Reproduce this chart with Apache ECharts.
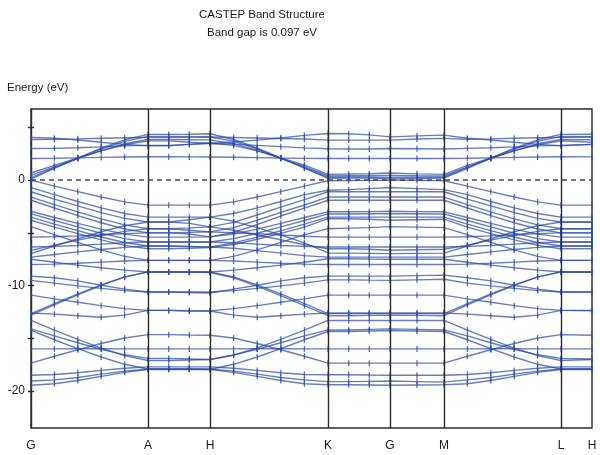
<!DOCTYPE html>
<html><head><meta charset="utf-8">
<script src="https://cdn.jsdelivr.net/npm/echarts@6/dist/echarts.min.js"></script>
<style>html,body{margin:0;padding:0;background:#fff}#chart{width:600px;height:455px}</style>
</head><body><div id="chart"></div>
<script>
// k-path: cumulative distance of every sampled k-point
const kDistance = [0, 0.234, 0.468, 0.702, 0.936, 1.17, 1.377, 1.583, 1.79, 2.026, 2.262, 2.498, 2.734,
  2.97, 3.177, 3.383, 3.59, 3.86, 4.13, 4.364, 4.598, 4.832, 5.066, 5.30, 5.61];
// high-symmetry points
const kLabels = ['G', 'A', 'H', 'K', 'G', 'M', 'L', 'H'];
const kLabelPos = [0, 1.17, 1.79, 2.97, 3.59, 4.13, 5.30, 5.61];
const yTicks = [-20, -15, -10, -5, 0, 5];
const yLabels = [-20, -10, 0];

// energies (eV) at each k-point, one row per band
const conductionBands = [
  [0.10,1.12,2.09,3.03,3.83,4.34, 4.34,4.36,4.40, 3.86,3.05,2.10,1.14, 0.18,0.20,0.20,0.12,0.16,0.20, 1.12,2.09,3.03,3.83,4.34,4.36],
  [0.25,1.19,2.08,2.94,3.68,4.15, 4.15,4.12,4.10, 3.70,2.96,2.10,1.20, 0.28,0.30,0.30,0.25,0.28,0.30, 1.19,2.08,2.94,3.68,4.15,4.12],
  [0.45,1.27,2.05,2.80,3.45,3.86, 3.86,3.84,3.82, 3.46,2.82,2.06,1.28, 0.40,0.42,0.44,0.45,0.42,0.40, 1.27,2.05,2.80,3.45,3.86,3.84],
  [0.68,1.41,2.11,2.78,3.36,3.73, 3.73,3.60,3.50, 3.30,2.78,2.12,1.42, 0.55,0.58,0.62,0.68,0.60,0.55, 1.41,2.11,2.78,3.36,3.73,3.60],
  [2.06,2.08,2.12,2.16,2.20,2.22, 2.22,2.21,2.20, 2.18,2.14,2.10,2.07, 2.06,2.06,2.06,2.06,2.06,2.06, 2.08,2.12,2.16,2.20,2.22,2.21],
  [3.00,3.02,3.08,3.16,3.25,3.30, 3.30,3.40,3.50, 3.42,3.30,3.18,3.06, 2.98,2.96,2.95,3.00,2.98,2.96, 3.02,3.08,3.16,3.25,3.30,3.40],
  [4.05,3.97,3.81,3.60,3.40,3.26, 3.26,3.40,3.50, 3.62,3.80,4.00,4.25, 4.43,4.40,4.30,4.11,4.20,4.27, 3.97,3.81,3.60,3.40,3.26,3.40],
  [3.85,3.88,3.92,3.97,4.02,4.06, 4.06,4.08,4.10, 4.05,4.00,3.95,3.90, 3.80,3.80,3.80,3.80,3.90,3.96, 3.88,3.92,3.97,4.02,4.06,4.08]
];
const valenceBands = [
  [0.00,-0.56,-1.09,-1.60,-2.06,-2.37, -2.37,-2.37,-2.37, -2.06,-1.60,-1.09,-0.56, -0.05,-0.03,-0.02,0.00,-0.02,-0.05, -0.56,-1.09,-1.60,-2.06,-2.37,-2.37],
  [-0.70,-1.37,-2.02,-2.63,-3.16,-3.50, -3.50,-3.50,-3.50, -3.16,-2.63,-2.02,-1.37, -0.95,-0.90,-0.80,-0.70,-0.80,-0.90, -1.37,-2.02,-2.63,-3.16,-3.50,-3.50],
  [-1.10,-1.79,-2.44,-3.07,-3.62,-3.96, -3.96,-4.10,-4.43, -4.00,-3.30,-2.55,-1.85, -1.10,-1.10,-1.10,-1.10,-1.10,-1.10, -1.79,-2.44,-3.07,-3.62,-3.96,-3.96],
  [-1.60,-2.32,-3.01,-3.67,-4.24,-4.60, -4.60,-4.75,-4.90, -4.50,-3.80,-3.05,-2.35, -1.60,-1.60,-1.60,-1.60,-1.60,-1.60, -2.32,-3.01,-3.67,-4.24,-4.60,-4.60],
  [-1.90,-2.64,-3.36,-4.04,-4.63,-5.00, -5.00,-5.10,-5.38, -4.95,-4.20,-3.40,-2.65, -1.90,-1.90,-1.90,-1.90,-1.90,-1.90, -2.64,-3.36,-4.04,-4.63,-5.00,-5.00],
  [-2.95,-3.54,-4.10,-4.64,-5.11,-5.40, -5.40,-5.40,-5.38, -5.11,-4.64,-4.10,-3.54, -3.00,-3.00,-2.98,-2.95,-2.98,-3.00, -3.54,-4.10,-4.64,-5.11,-5.40,-5.40],
  [-3.17,-3.82,-4.43,-5.03,-5.54,-5.86, -5.86,-5.86,-5.86, -5.54,-5.03,-4.43,-3.82, -3.20,-3.20,-3.18,-3.17,-3.18,-3.20, -3.82,-4.43,-5.03,-5.54,-5.86,-5.86],
  [-3.50,-4.16,-4.79,-5.39,-5.91,-6.24, -6.24,-6.28,-6.33, -5.95,-5.40,-4.80,-4.16, -3.50,-3.50,-3.50,-3.50,-3.50,-3.50, -4.16,-4.79,-5.39,-5.91,-6.24,-6.24],
  [-3.80,-4.45,-5.07,-5.66,-6.18,-6.50, -6.50,-6.45,-6.40, -6.10,-5.60,-5.05,-4.45, -3.64,-3.66,-3.70,-3.80,-3.75,-3.70, -4.45,-5.07,-5.66,-6.18,-6.50,-6.50],
  [-4.40,-5.17,-5.90,-6.61,-7.22,-7.60, -7.60,-7.60,-7.60, -7.22,-6.61,-5.90,-5.17, -4.60,-4.55,-4.50,-4.40,-4.45,-4.50, -5.17,-5.90,-6.61,-7.22,-7.60,-7.60],
  [-5.40,-5.36,-5.28,-5.17,-5.07,-5.00, -5.00,-4.95,-4.90, -4.98,-5.08,-5.20,-5.32, -5.40,-5.40,-5.40,-5.40,-5.40,-5.40, -5.36,-5.28,-5.17,-5.07,-5.00,-5.00],
  [-6.33,-6.28,-6.19,-6.06,-5.94,-5.86, -5.86,-5.86,-5.86, -5.94,-6.06,-6.19,-6.28, -6.33,-6.33,-6.33,-6.33,-6.33,-6.33, -6.28,-6.19,-6.06,-5.94,-5.86,-5.86],
  [-6.65,-6.16,-5.69,-5.24,-4.85,-4.60, -4.60,-4.52,-4.43, -4.75,-5.20,-5.65,-6.12, -6.50,-6.50,-6.55,-6.65,-6.60,-6.55, -6.16,-5.69,-5.24,-4.85,-4.60,-4.60],
  [-6.96,-6.24,-5.55,-4.89,-4.32,-3.96, -3.96,-3.75,-3.50, -3.90,-4.50,-5.20,-5.95, -6.90,-6.92,-6.94,-6.96,-6.94,-6.92, -6.24,-5.55,-4.89,-4.32,-3.96,-3.96],
  [-7.30,-7.05,-6.80,-6.57,-6.37,-6.24, -6.24,-6.30,-6.33, -6.45,-6.68,-6.92,-7.15, -7.30,-7.30,-7.30,-7.30,-7.30,-7.30, -7.05,-6.80,-6.57,-6.37,-6.24,-6.24],
  [-7.50,-7.78,-8.05,-8.30,-8.53,-8.70, -8.70,-8.70,-8.70, -8.53,-8.30,-8.05,-7.78, -7.45,-7.45,-7.48,-7.50,-7.50,-7.50, -7.78,-8.05,-8.30,-8.53,-8.70,-8.70],
  [-8.00,-7.96,-7.88,-7.77,-7.67,-7.60, -7.60,-7.60,-7.60, -7.67,-7.77,-7.88,-7.96, -8.00,-8.00,-8.00,-8.00,-8.00,-8.00, -7.96,-7.88,-7.77,-7.67,-7.60,-7.60]
];
const lowerBands = [
  [-9.10,-9.25,-9.55,-9.96,-10.33,-10.60, -10.60,-10.65,-10.70, -10.33,-9.96,-9.55,-9.25, -9.10,-9.10,-9.10,-9.10,-9.05,-9.00, -9.25,-9.55,-9.96,-10.33,-10.60,-10.60],
  [-9.50,-9.76,-10.02,-10.26,-10.47,-10.60, -10.60,-10.60,-10.60, -10.47,-10.26,-10.02,-9.76, -9.45,-9.45,-9.48,-9.50,-9.45,-9.40, -9.76,-10.02,-10.26,-10.47,-10.60,-10.60],
  [-10.90,-11.25,-11.58,-11.90,-12.18,-12.35, -12.35,-12.38,-12.40, -12.18,-11.90,-11.58,-11.25, -10.90,-10.90,-10.90,-10.90,-10.90,-10.90, -11.25,-11.58,-11.90,-12.18,-12.35,-12.38],
  [-12.65,-11.70,-10.79,-9.92,-9.17,-8.70, -8.70,-8.70,-8.70, -9.17,-9.92,-10.79,-11.70, -12.65,-12.65,-12.65,-12.65,-12.65,-12.65, -11.70,-10.79,-9.92,-9.17,-8.70,-8.70],
  [-12.80,-11.82,-10.87,-9.97,-9.19,-8.70, -8.70,-8.72,-8.75, -9.25,-10.05,-10.95,-11.90, -12.85,-12.85,-12.82,-12.80,-12.82,-12.85, -11.82,-10.87,-9.97,-9.19,-8.70,-8.72],
  [-12.60,-12.70,-12.85,-13.00,-12.80,-12.35, -12.35,-12.40,-12.40, -12.80,-13.00,-12.85,-12.70, -12.60,-12.60,-12.60,-12.60,-12.60,-12.60, -12.70,-12.85,-13.00,-12.80,-12.35,-12.35],
  [-13.30,-14.21,-15.09,-15.92,-16.64,-17.10, -17.10,-17.05,-17.00, -16.60,-15.90,-15.09,-14.21, -13.30,-13.30,-13.30,-13.30,-13.30,-13.30, -14.21,-15.09,-15.92,-16.64,-17.10,-17.00],
  [-14.10,-14.77,-15.42,-16.03,-16.56,-16.90, -16.90,-16.95,-17.00, -16.56,-16.03,-15.42,-14.77, -14.20,-14.20,-14.15,-14.10,-14.15,-14.20, -14.77,-15.42,-16.03,-16.56,-16.90,-16.95],
  [-14.25,-15.13,-15.97,-16.77,-17.46,-17.90, -17.90,-17.90,-17.95, -17.46,-16.77,-15.97,-15.13, -14.35,-14.35,-14.30,-14.25,-14.30,-14.35, -15.13,-15.97,-16.77,-17.46,-17.90,-17.90],
  [-16.00,-16.00,-15.98,-15.98,-16.00,-16.00, -16.00,-16.00,-16.00, -16.00,-15.98,-15.98,-16.00, -16.00,-16.00,-16.00,-16.00,-16.00,-16.00, -16.00,-15.98,-15.98,-16.00,-16.00,-16.00],
  [-17.35,-16.70,-16.08,-15.49,-14.97,-14.65, -14.65,-14.68,-14.70, -14.97,-15.49,-16.08,-16.70, -17.35,-17.35,-17.35,-17.35,-17.35,-17.35, -16.70,-16.08,-15.49,-14.97,-14.65,-14.70],
  [-18.50,-18.42,-18.26,-18.04,-17.84,-17.70, -17.70,-17.70,-17.70, -17.84,-18.04,-18.26,-18.42, -18.45,-18.45,-18.48,-18.50,-18.50,-18.50, -18.42,-18.26,-18.04,-17.84,-17.70,-17.70],
  [-19.05,-18.94,-18.71,-18.39,-18.11,-17.90, -17.90,-17.90,-17.90, -18.11,-18.39,-18.71,-18.94, -19.10,-19.10,-19.08,-19.05,-19.10,-19.15, -18.94,-18.71,-18.39,-18.11,-17.90,-17.90],
  [-19.45,-19.30,-19.00,-18.60,-18.22,-17.95, -17.95,-17.95,-17.95, -18.22,-18.60,-19.00,-19.30, -19.40,-19.40,-19.42,-19.45,-19.42,-19.40, -19.30,-19.00,-18.60,-18.22,-17.95,-17.95]
];

const FONT = 'Liberation Sans';
const BAND_COLOR = '#2c4aab';
const AXIS_COLOR = '#2b2b2b';

const allBands = conductionBands.concat(valenceBands, lowerBands);

const series = allBands.map((band, b) => ({
  name: 'band ' + (b + 1),
  type: 'line',
  data: band.map((e, i) => [kDistance[i], e]),
  showSymbol: true,
  showAllSymbol: true,
  symbol: 'rect',
  symbolSize: [1.3, 6],
  lineStyle: { width: 1.4, color: BAND_COLOR, opacity: 0.72 },
  itemStyle: { color: BAND_COLOR, opacity: 0.8 },
  silent: true,
  z: 3
}));

// high-symmetry verticals and the Fermi level
series.push({
  name: 'guides',
  type: 'line',
  data: [],
  silent: true,
  markLine: {
    silent: true,
    symbol: 'none',
    label: { show: false },
    animation: false,
    data: kLabelPos.slice(1, -1).map(p => ({ xAxis: p, lineStyle: { color: AXIS_COLOR, width: 1.4, type: 'solid' } }))
      .concat([{ yAxis: 0, lineStyle: { color: '#4a4a4a', width: 1.6, type: [5, 4] } }])
  },
  z: 2
});

const chart = echarts.init(document.getElementById('chart'), null, { renderer: 'canvas' });
chart.setOption({
  animation: false,
  backgroundColor: '#fff',
  graphic: [
    { type: 'text', x: 262, y: 9, style: { text: 'CASTEP Band Structure', textAlign: 'center', fontSize: 11.5, fontFamily: FONT, fill: '#1a1a1a' } },
    { type: 'text', x: 262, y: 27, style: { text: 'Band gap is 0.097 eV', textAlign: 'center', fontSize: 11.5, fontFamily: FONT, fill: '#1a1a1a' } },
    { type: 'text', x: 7, y: 82, style: { text: 'Energy (eV)', textAlign: 'left', fontSize: 11.5, fontFamily: FONT, fill: '#1a1a1a' } }
  ],
  grid: { left: 31, right: 8, top: 109, bottom: 27, show: true, borderColor: AXIS_COLOR, borderWidth: 1.4, containLabel: false },
  xAxis: {
    type: 'value', min: 0, max: 5.61,
    axisLine: { show: false },
    axisTick: { show: false },
    splitLine: { show: false },
    axisLabel: {
      customValues: kLabelPos,
      showMinLabel: true, showMaxLabel: true,
      formatter: v => { const i = kLabelPos.findIndex(p => Math.abs(p - v) < 1e-6); return i >= 0 ? kLabels[i] : ''; },
      margin: 12, fontSize: 12, fontFamily: FONT, color: '#1a1a1a'
    }
  },
  yAxis: [
    {
      type: 'value', min: -23.5, max: 6.75,
      axisLine: { show: true, lineStyle: { color: AXIS_COLOR, width: 1.4 } },
      axisTick: { show: true, customValues: yTicks, length: 3, lineStyle: { color: AXIS_COLOR, width: 1.4 } },
      axisLabel: { customValues: yLabels, margin: 6, fontSize: 12, fontFamily: FONT, color: '#1a1a1a' },
      splitLine: { show: false }
    },
    {
      type: 'value', min: -23.5, max: 6.75, position: 'left',
      axisLine: { show: false },
      axisTick: { show: true, inside: true, customValues: yTicks, length: 3, lineStyle: { color: AXIS_COLOR, width: 1.4 } },
      axisLabel: { show: false },
      splitLine: { show: false }
    }
  ],
  series: series
});
</script></body></html>
